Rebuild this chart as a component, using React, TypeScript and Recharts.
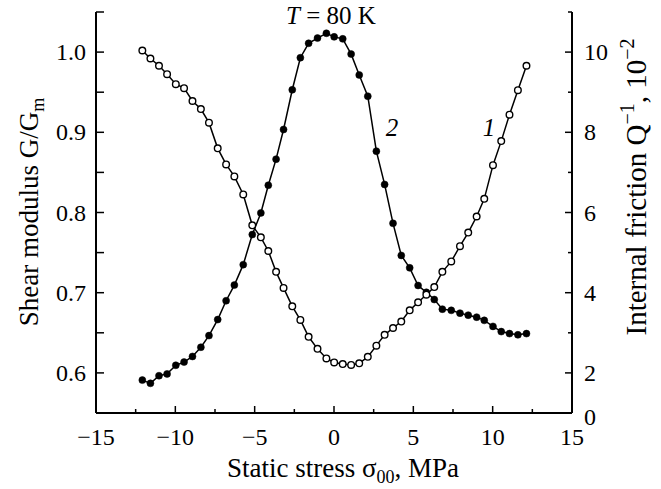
import React from 'react';
import { LineChart, Line, XAxis, YAxis } from 'recharts';

// Static stress sigma_00, MPa
const stress = [
  -12.08, -11.57, -11.03, -10.52, -9.97, -9.45, -8.92, -8.39, -7.88, -7.33,
  -6.8, -6.28, -5.72, -5.15, -4.61, -4.14, -3.65, -3.18, -2.63, -2.12,
  -1.6, -1.04, -0.48, 0.01, 0.55, 1.08, 1.59, 2.13, 2.67, 3.19,
  3.72, 4.24, 4.77, 5.3, 5.82, 6.32, 6.83, 7.39, 7.94, 8.46,
  8.99, 9.47, 10.02, 10.54, 11.06, 11.59, 12.13,
];
// Curve 1: shear modulus G/Gm (left axis, open circles)
const shearModulus = [
  1.002, 0.992, 0.983, 0.9725, 0.96, 0.955, 0.939, 0.929, 0.912, 0.88,
  0.86, 0.845, 0.8225, 0.784, 0.769, 0.752, 0.726, 0.706, 0.683, 0.666,
  0.645, 0.63, 0.618, 0.613, 0.611, 0.61, 0.612, 0.62, 0.634, 0.6475,
  0.656, 0.664, 0.678, 0.688, 0.6975, 0.707, 0.726, 0.739, 0.758, 0.775,
  0.795, 0.817, 0.859, 0.889, 0.922, 0.9525, 0.983,
];
// Curve 2: internal friction Q^-1, 10^-2 (right axis, filled circles)
const internalFriction = [
  1.82, 1.74, 1.93, 1.975, 2.19, 2.27, 2.41, 2.64, 2.93, 3.33,
  3.8, 4.19, 4.7, 5.45, 5.99, 6.68, 7.33, 8.07, 9.06, 9.86,
  10.22, 10.35, 10.47, 10.38, 10.33, 9.95, 9.43, 8.9, 7.53, 6.7,
  5.73, 4.93, 4.62, 4.18, 4.01, 3.83, 3.59, 3.56, 3.49, 3.44,
  3.39, 3.31, 3.16, 3.03, 2.98, 2.95, 2.98,
];

const xTicks = [-15, -12.5, -10, -7.5, -5, -2.5, 0, 2.5, 5, 7.5, 10, 12.5, 15];
const xLabeled = [-15, -10, -5, 0, 5, 10, 15];
const leftTicks = [0.6, 0.65, 0.7, 0.75, 0.8, 0.85, 0.9, 0.95, 1.0, 1.05];
const leftLabeled = ['0.6', '0.7', '0.8', '0.9', '1.0'];
const rightTicks = [1, 2, 3, 4, 5, 6, 7, 8, 9, 10, 11];
const rightLabels: Record<number, string> = { 1: '0', 2: '2', 4: '4', 6: '6', 8: '8', 10: '10' };

const data = stress.map((x, i) => ({ x, g: shearModulus[i], q: internalFriction[i] }));

const FONT = 'Liberation Serif, Times New Roman, Times, serif';
const TICK_FONT = 24;
const M = 10;
const textStyle: React.CSSProperties = { fontFamily: FONT };

const fmtMinus = (v: number) => (v < 0 ? '\u2212' + Math.abs(v) : String(v));

const XTick = (props: any) => {
  const { x, y, payload } = props;
  const v = payload.value;
  const axisY = y - M;
  const major = xLabeled.includes(v);
  const len = major ? 7 : 4;
  return (
    <g>
      <line x1={x} x2={x} y1={axisY} y2={axisY - len} stroke="#000" strokeWidth={1.5} />
      {major && (
        <text x={x} y={axisY + 32} textAnchor="middle" style={textStyle} fontSize={TICK_FONT} fill="#000">
          {fmtMinus(v)}
        </text>
      )}
    </g>
  );
};

const LeftTick = (props: any) => {
  const { x, y, payload } = props;
  const v = payload.value;
  const axisX = x + M;
  const label = v.toFixed(1);
  const isLabeled = leftLabeled.includes(label) && Math.abs(v * 10 - Math.round(v * 10)) < 1e-6;
  return (
    <g>
      <line x1={axisX} x2={axisX + 8} y1={y} y2={y} stroke="#000" strokeWidth={1.5} />
      {isLabeled && (
        <text x={axisX - 10} y={y + 8} textAnchor="end" style={textStyle} fontSize={TICK_FONT} fill="#000">
          {label}
        </text>
      )}
    </g>
  );
};

const RightTick = (props: any) => {
  const { x, y, payload } = props;
  const v = payload.value;
  const axisX = x - M;
  const major = v % 2 === 0;
  const len = major ? 7 : 4;
  const label = rightLabels[v];
  return (
    <g>
      {v !== 1 && <line x1={axisX} x2={axisX - len} y1={y} y2={y} stroke="#000" strokeWidth={1.5} />}
      {label !== undefined && (
        <text x={axisX + 12} y={y + 8 + (v === 1 ? 4 : 0)} textAnchor="start" style={textStyle} fontSize={TICK_FONT} fill="#000">
          {label}
        </text>
      )}
    </g>
  );
};

const OpenDot = (props: any) => {
  const { cx, cy } = props;
  if (cx == null || cy == null) return null;
  return <circle cx={cx} cy={cy} r={3.3} fill="#fff" stroke="#000" strokeWidth={1.4} />;
};
const FilledDot = (props: any) => {
  const { cx, cy } = props;
  if (cx == null || cy == null) return null;
  return <circle cx={cx} cy={cy} r={3.5} fill="#000" stroke="#000" strokeWidth={0.5} />;
};

export default function App() {
  return (
    <div style={{ position: 'absolute', left: 0, top: 0, width: 661, height: 489, background: '#fff', fontFamily: FONT }}>
      <LineChart width={661} height={489} data={data} margin={{ top: 12, right: 0, bottom: 0, left: 0 }}>
        <XAxis
          dataKey="x"
          type="number"
          domain={[-15, 15]}
          ticks={xTicks}
          interval={0}
          height={76}
          tickSize={0}
          tickMargin={M}
          tickLine={false}
          axisLine={{ stroke: '#000', strokeWidth: 2 }}
          tick={<XTick />}
        />
        <YAxis
          yAxisId="left"
          orientation="left"
          type="number"
          domain={[0.55, 1.05]}
          ticks={leftTicks}
          interval={0}
          width={96}
          tickSize={0}
          tickMargin={M}
          tickLine={false}
          axisLine={{ stroke: '#000', strokeWidth: 2 }}
          tick={<LeftTick />}
        />
        <YAxis
          yAxisId="right"
          orientation="right"
          type="number"
          domain={[1, 11]}
          ticks={rightTicks}
          interval={0}
          width={89}
          tickSize={0}
          tickMargin={M}
          tickLine={false}
          axisLine={{ stroke: '#000', strokeWidth: 2 }}
          tick={<RightTick />}
        />
        <Line
          yAxisId="right"
          dataKey="q"
          type="linear"
          stroke="#000"
          strokeWidth={1.5}
          dot={<FilledDot />}
          activeDot={false}
          isAnimationActive={false}
        />
        <Line
          yAxisId="left"
          dataKey="g"
          type="linear"
          stroke="#000"
          strokeWidth={1.5}
          dot={<OpenDot />}
          activeDot={false}
          isAnimationActive={false}
        />
      </LineChart>
      <svg width={661} height={489} style={{ position: 'absolute', left: 0, top: 0, pointerEvents: 'none', fontFamily: FONT }}>
        <text x={331} y={24} textAnchor="middle" style={textStyle} fontSize={25} fill="#000">
          <tspan fontStyle="italic">T</tspan>
          <tspan> = 80 K</tspan>
        </text>
        <text x={392} y={136} textAnchor="middle" style={textStyle} fontSize={25} fontStyle="italic" fill="#000">2</text>
        <text x={489} y={136} textAnchor="middle" style={textStyle} fontSize={25} fontStyle="italic" fill="#000">1</text>
        <text x={343} y={477} textAnchor="middle" style={textStyle} fontSize={27} fill="#000">
          Static stress σ<tspan fontSize={18} dy={6}>00</tspan><tspan dy={-6}>, MPa</tspan>
        </text>
        <g transform="translate(38 212) rotate(-90)">
          <text x={0} y={0} textAnchor="middle" style={textStyle} fontSize={27} fill="#000">
            Shear modulus G/G<tspan fontSize={18} dy={6}>m</tspan>
          </text>
        </g>
        <g transform="translate(646 187) rotate(-90)">
          <text x={0} y={0} textAnchor="middle" style={textStyle} fontSize={29} fill="#000">
            Internal friction Q<tspan fontSize={20} dy={-12}>−1</tspan><tspan dy={12}>, 10</tspan><tspan fontSize={20} dy={-12}>−2</tspan>
          </text>
        </g>
      </svg>
    </div>
  );
}
